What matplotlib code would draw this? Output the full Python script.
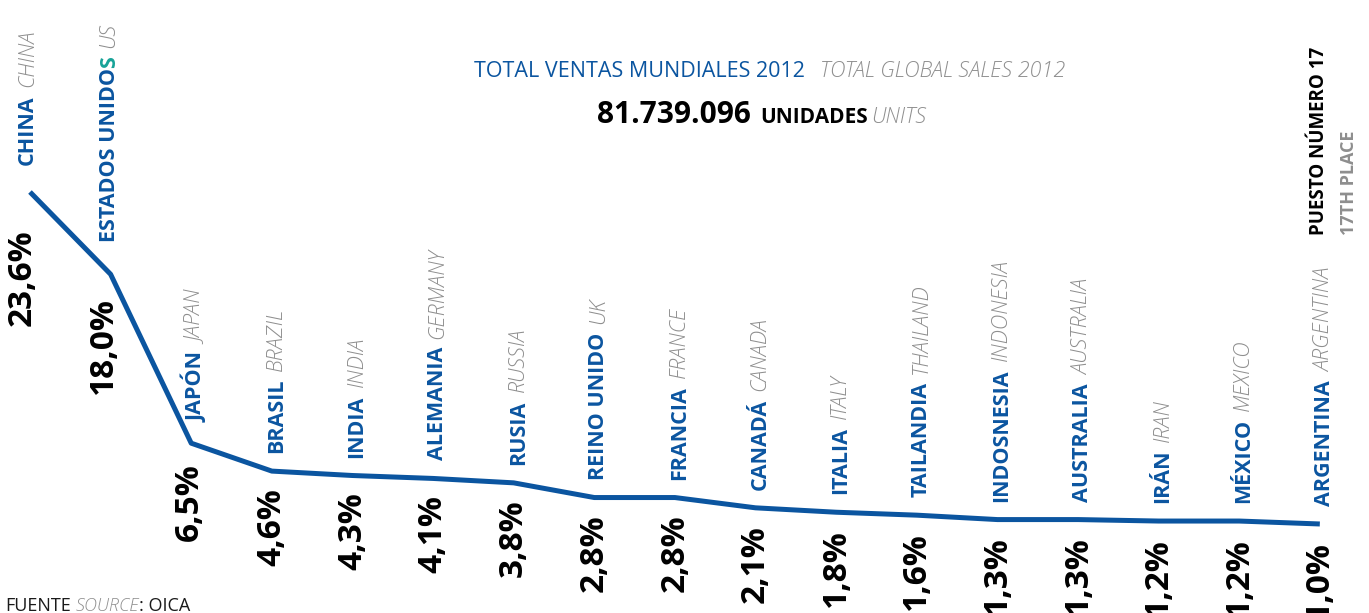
import matplotlib
matplotlib.use("Agg")
import matplotlib.pyplot as plt

BLUE = "#0b55a0"
GRAY = "#8e8e8e"
TEAL = "#17a398"
DARK = "#1a1a1a"

# share of 2012 global vehicle sales, top 17 countries
names_es = ["CHINA", "ESTADOS UNIDOS", "JAPÓN", "BRASIL", "INDIA", "ALEMANIA", "RUSIA",
            "REINO UNIDO", "FRANCIA", "CANADÁ", "ITALIA", "TAILANDIA", "INDOSNESIA",
            "AUSTRALIA", "IRÁN", "MÉXICO", "ARGENTINA"]
names_en = ["CHINA", "US", "JAPAN", "BRAZIL", "INDIA", "GERMANY", "RUSSIA", "UK", "FRANCE",
            "CANADA", "ITALY", "THAILAND", "INDONESIA", "AUSTRALIA", "IRAN", "MEXICO", "ARGENTINA"]
share = [23.6, 18.0, 6.5, 4.6, 4.3, 4.1, 3.8, 2.8, 2.8, 2.1, 1.8, 1.6, 1.3, 1.3, 1.2, 1.2, 1.0]

total_units = "81.739.096"

plt.rcParams['font.family'] = ['Open Sans', 'DejaVu Sans']

fig = plt.figure(figsize=(13.69, 6.13), dpi=100)
ax = fig.add_axes([0, 0, 1, 1])
ax.set_xlim(-0.372, 16.61)
ax.set_ylim(-5.06, 36.67)
ax.axis('off')

xs = list(range(len(share)))
ax.plot(xs, share, color=BLUE, lw=3.6, solid_joinstyle='round', solid_capstyle='butt')

# label nudges (pixels): the steep start needs more room
name_dx = [3, 4, 11] + [10] * 14
name_gap = [27, 32, 21] + [18] * 14
pct_dx = [-8, -7, -2] + [0] * 14
pct_gap = [37, 23, 20] + [17] * 14

for i, v in enumerate(share):
    es = names_es[i]
    if es == "ESTADOS UNIDOS":
        es = "ESTADOS UNIDO"
    t = ax.annotate(es, xy=(i, v), xytext=(name_dx[i], name_gap[i]), textcoords='offset pixels',
                    rotation=90, rotation_mode='anchor', ha='left', va='baseline',
                    fontsize=15.5, fontweight='bold', color=BLUE)
    if names_es[i] == "ESTADOS UNIDOS":
        t = ax.annotate("S", xy=(i, 1), xycoords=('data', t), xytext=(name_dx[i], 0),
                        textcoords='offset pixels', rotation=90, rotation_mode='anchor',
                        ha='left', va='baseline', fontsize=15.5, fontweight='bold', color=TEAL)
    ax.annotate(names_en[i], xy=(i, 1), xycoords=('data', t), xytext=(name_dx[i], 8),
                textcoords='offset pixels', rotation=90, rotation_mode='anchor',
                ha='left', va='baseline', fontsize=15.5, fontweight='light', fontstyle='italic',
                color=GRAY)

    pct = f"{v:.1f}".replace(".", ",") + "%"
    ax.annotate(pct, xy=(i, v), xytext=(pct_dx[i], -pct_gap[i]), textcoords='offset pixels',
                rotation=90, ha='center', va='top', fontsize=24, fontweight='bold', color='black')

# title block
t1 = ax.annotate("TOTAL VENTAS MUNDIALES 2012", xy=(474, 536), xycoords='figure pixels',
                 ha='left', va='baseline', fontsize=15.5, color=BLUE)
ax.annotate("TOTAL GLOBAL SALES 2012", xy=(1, 536), xycoords=(t1, 'figure pixels'),
            xytext=(15, 0), textcoords='offset pixels', ha='left', va='baseline',
            fontsize=15.5, fontweight='light', fontstyle='italic', color=GRAY)

t2 = ax.annotate(total_units, xy=(597, 490), xycoords='figure pixels',
                 ha='left', va='baseline', fontsize=21.5, fontweight='bold', color='black')
t3 = ax.annotate("UNIDADES", xy=(1, 490), xycoords=(t2, 'figure pixels'),
                 xytext=(9, 0), textcoords='offset pixels', ha='left', va='baseline',
                 fontsize=15, fontweight='bold', color='black')
ax.annotate("UNITS", xy=(1, 490), xycoords=(t3, 'figure pixels'),
            xytext=(4, 0), textcoords='offset pixels', ha='left', va='baseline',
            fontsize=15.5, fontweight='light', fontstyle='italic', color=GRAY)

# rank note on the right
ax.annotate("PUESTO NÚMERO 17", xy=(1324, 378), xycoords='figure pixels', rotation=90,
            rotation_mode='anchor', ha='left', va='baseline', fontsize=13.5, fontweight='bold',
            color='black')
ax.annotate("17TH PLACE", xy=(1354, 378), xycoords='figure pixels', rotation=90,
            rotation_mode='anchor', ha='left', va='baseline', fontsize=13, fontweight='bold',
            color=GRAY)

# source
f1 = ax.annotate("FUENTE", xy=(5, 2), xycoords='figure pixels', ha='left', va='baseline',
                 fontsize=13, color=DARK)
f2 = ax.annotate("SOURCE", xy=(1, 2), xycoords=(f1, 'figure pixels'), xytext=(5, 0),
                 textcoords='offset pixels', ha='left', va='baseline', fontsize=13,
                 fontweight='light', fontstyle='italic', color=GRAY)
ax.annotate(": OICA", xy=(1, 2), xycoords=(f2, 'figure pixels'), ha='left', va='baseline',
            fontsize=13, color=DARK)

fig.savefig("out.png", dpi=100)
